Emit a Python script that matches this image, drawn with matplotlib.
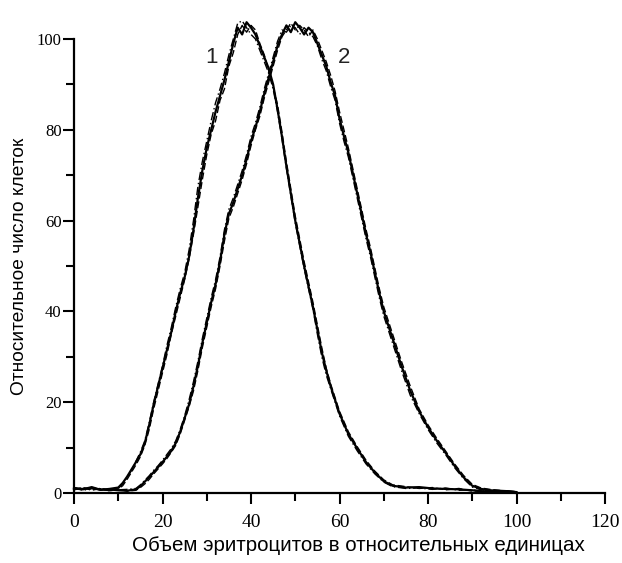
import matplotlib
matplotlib.use("Agg")
import matplotlib.pyplot as plt
from matplotlib.ticker import MultipleLocator

# ---- data ----
x_ticks = [0, 20, 40, 60, 80, 100, 120]
y_ticks = [0, 20, 40, 60, 80, 100]
x_label = "Объем эритроцитов в относительных единицах"
y_label = "Относительное число клеток"
curve_labels = ["1", "2"]
label_pos_x = [31.0, 61.0]
label_pos_y = [96.0, 96.0]

c1_x = [0, 2, 4, 6, 8, 10, 11, 12, 13, 14, 15, 16, 17, 18, 19, 20, 21, 22, 23, 24,
        25, 26, 27, 28, 29, 30, 31, 32, 33, 34, 35, 36, 37, 38, 39, 40, 41, 42, 43, 44,
        45, 46, 47, 48, 49, 50, 51, 52, 53, 54, 55, 56, 57, 58, 59, 60, 62, 64, 66, 68,
        70, 72, 75, 78, 81, 84, 87, 90, 93, 96, 100]
c1_solid = [1.0, 0.8, 1.3, 0.7, 0.9, 1.2, 2.2, 3.6, 5.2, 6.8, 8.5, 11.0, 15.0, 19.5, 23.5, 27.5, 31.5, 35.5, 40.0, 44.0,
            47.5, 52.0, 58.0, 65.0, 71.0, 76.0, 80.0, 84.0, 87.5, 91.0, 95.0, 99.0, 102.5, 101.0, 103.7, 102.5, 101.0, 98.5, 96.0, 93.5,
            90.0, 84.5, 78.5, 72.0, 66.0, 60.0, 55.0, 50.0, 45.5, 41.0, 36.0, 31.0, 27.0, 23.5, 20.5, 17.5, 13.0, 9.8, 6.8, 4.5,
            2.6, 1.6, 1.2, 1.3, 1.0, 0.9, 0.8, 0.6, 0.3, 0.2, 0.0]
c1_dash = [0.8, 1.2, 0.6, 1.0, 0.5, 0.9, 1.6, 3.0, 4.6, 6.2, 8.0, 10.5, 14.0, 18.5, 22.5, 26.5, 30.5, 35.0, 39.0, 43.0,
           47.0, 51.5, 57.0, 63.0, 69.0, 74.5, 79.0, 82.0, 86.5, 89.0, 94.0, 97.0, 101.0, 103.0, 101.5, 103.0, 102.0, 99.0, 96.5, 93.0,
           89.5, 85.5, 79.5, 73.0, 67.0, 61.0, 56.0, 51.0, 46.5, 42.0, 37.0, 32.0, 27.5, 24.0, 21.0, 18.0, 13.5, 10.2, 7.2, 4.8,
           2.9, 1.8, 1.4, 1.0, 1.2, 0.7, 1.0, 0.4, 0.5, 0.1, 0.0]
c1_dashdot = [1.2, 0.6, 1.0, 0.9, 0.6, 1.0, 2.0, 3.4, 5.0, 7.0, 9.0, 11.5, 15.5, 20.0, 24.0, 28.0, 32.5, 36.5, 41.0, 45.0,
              48.5, 53.5, 60.0, 67.5, 73.0, 77.5, 82.0, 86.0, 89.0, 92.5, 96.5, 100.0, 103.5, 104.0, 102.5, 101.0, 100.0, 97.5, 95.0, 92.5,
              89.0, 84.0, 78.0, 71.5, 65.5, 59.5, 54.5, 49.5, 45.0, 40.5, 35.0, 30.0, 26.0, 23.0, 20.0, 17.0, 12.5, 9.3, 6.4, 4.2,
              2.4, 1.4, 1.0, 1.1, 0.8, 1.1, 0.6, 0.7, 0.2, 0.3, 0.0]

c2_x = [0, 2, 4, 6, 8, 10, 12, 14, 15, 16, 17, 18, 19, 20, 21, 22, 23, 24, 25, 26,
        27, 28, 29, 30, 31, 32, 33, 34, 35, 36, 37, 38, 39, 40, 41, 42, 43, 44, 45, 46,
        47, 48, 49, 50, 51, 52, 53, 54, 55, 56, 57, 58, 59, 60, 61, 62, 63, 64, 65, 66,
        67, 68, 69, 70, 72, 74, 76, 78, 80, 82, 84, 86, 88, 90, 92, 94, 96, 98, 100]
c2_solid = [1.0, 0.9, 1.1, 0.7, 0.8, 0.6, 0.5, 0.8, 1.5, 2.5, 3.5, 4.6, 5.7, 6.8, 8.0, 9.3, 11.0, 13.5, 16.5, 19.5,
            23.5, 28.0, 33.0, 37.5, 42.0, 46.0, 51.0, 57.0, 61.5, 64.0, 67.0, 70.0, 73.5, 77.5, 80.5, 84.0, 88.0, 91.5, 95.0, 98.5,
            101.0, 103.0, 101.5, 103.7, 102.5, 101.0, 102.5, 101.5, 99.0, 96.5, 94.0, 90.5, 87.5, 82.5, 78.6, 75.0, 70.5, 66.0, 61.5, 57.0,
            53.0, 48.5, 44.0, 40.0, 34.0, 28.0, 22.5, 18.0, 14.5, 11.5, 8.8, 6.0, 3.5, 1.6, 0.9, 0.6, 0.5, 0.4, 0.2]
c2_dash = [0.7, 1.1, 0.8, 1.0, 0.6, 0.9, 0.4, 0.6, 1.2, 2.0, 3.0, 4.2, 5.3, 6.4, 7.6, 9.0, 10.5, 13.0, 16.0, 19.0,
           22.5, 27.0, 32.0, 36.5, 41.0, 45.0, 50.0, 55.5, 60.5, 63.0, 66.0, 69.0, 72.5, 76.5, 80.0, 83.0, 87.0, 90.5, 94.0, 97.5,
           100.5, 102.0, 103.5, 102.0, 103.0, 102.0, 100.5, 102.0, 100.0, 97.5, 95.0, 92.0, 88.5, 84.0, 80.0, 76.0, 71.5, 67.0, 62.5, 58.0,
           54.0, 49.5, 45.0, 41.0, 35.0, 29.0, 23.5, 18.5, 15.0, 12.0, 9.2, 6.4, 3.9, 1.9, 1.1, 0.8, 0.6, 0.3, 0.1]
c2_dashdot = [1.2, 0.7, 1.0, 0.9, 0.5, 0.7, 0.8, 1.0, 1.8, 2.8, 3.8, 5.0, 6.0, 7.2, 8.5, 9.8, 11.5, 14.0, 17.0, 20.5,
              24.5, 29.0, 34.0, 38.5, 43.0, 47.0, 52.0, 58.0, 62.5, 65.0, 68.0, 71.0, 74.5, 78.5, 81.5, 85.0, 89.0, 92.5, 96.0, 99.5,
              102.0, 101.5, 103.0, 102.5, 101.0, 102.5, 101.5, 100.5, 98.5, 95.5, 93.0, 89.5, 86.5, 81.5, 77.5, 74.0, 69.5, 65.0, 60.5, 56.0,
              52.0, 47.5, 43.0, 39.0, 33.0, 27.0, 21.5, 17.5, 14.0, 11.0, 8.4, 5.6, 3.2, 1.3, 0.7, 0.4, 0.3, 0.5, 0.3]

# ---- figure ----
fig = plt.figure(figsize=(6.22, 5.63), dpi=100)
ax = fig.add_axes([74 / 622, 70 / 563, 531 / 622, 454 / 563])

styles = [("-", 1.6), ((0, (5, 2)), 1.0), ((0, (6, 2, 1, 2)), 1.0)]
for xs, series in [(c1_x, [c1_solid, c1_dash, c1_dashdot]),
                   (c2_x, [c2_solid, c2_dash, c2_dashdot])]:
    for ys, (ls, lw) in zip(series, styles):
        ax.plot(xs, ys, color="black", linestyle=ls, linewidth=lw, clip_on=False)

for lab, lx, ly in zip(curve_labels, label_pos_x, label_pos_y):
    ax.text(lx, ly, lab, fontsize=16, family="Liberation Sans",
            ha="center", va="center", color="#222222")

ax.set_xlim(0, 120)
ax.set_ylim(0, 100)
for s in ["top", "right"]:
    ax.spines[s].set_visible(False)
for s in ["left", "bottom"]:
    ax.spines[s].set_linewidth(1.6)
    ax.spines[s].set_color("black")

ax.set_xticks(x_ticks)
ax.set_yticks(y_ticks)
ax.xaxis.set_minor_locator(MultipleLocator(10))
ax.yaxis.set_minor_locator(MultipleLocator(10))
ax.tick_params(axis="both", which="major", length=8, width=1.5, direction="out", color="black")
ax.tick_params(axis="both", which="minor", length=5.5, width=1.5, direction="out", color="black")
ax.tick_params(axis="x", which="major", pad=7)
ax.tick_params(axis="y", which="major", pad=1)
for t in ax.get_xticklabels():
    t.set_family("Liberation Serif")
    t.set_fontsize(14)
for t in ax.get_yticklabels():
    t.set_family("Liberation Serif")
    t.set_fontsize(12)

ax.set_xlabel(x_label, family="Liberation Sans", fontsize=14.8, labelpad=7)
ax.xaxis.set_label_coords(0.535, -0.115)
ax.xaxis.label.set_verticalalignment("center")
ax.set_ylabel(y_label, family="Liberation Sans", fontsize=13.8, labelpad=6)

fig.savefig("out.png", dpi=100, facecolor="white")
